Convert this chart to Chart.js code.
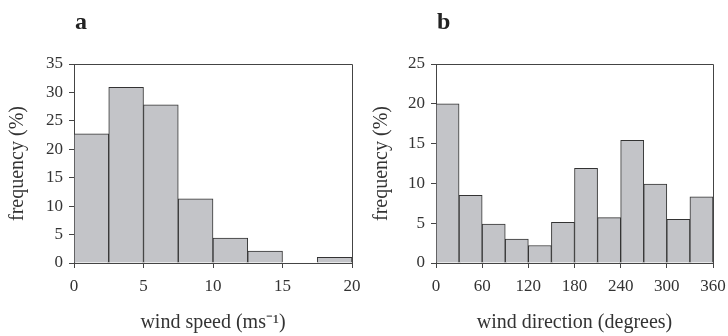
<!DOCTYPE html>
<html>
<head>
<meta charset="utf-8">
<script src="https://cdn.jsdelivr.net/npm/chart.js@4"></script>
<style>
  body { margin: 0; background: #fff; }
  #wrap { position: relative; width: 728px; height: 336px; }
  .panel { position: absolute; top: 0; width: 364px; height: 336px; }
  .tag { position: absolute; top: 8px; font: bold 24px "Liberation Serif", serif; color: #222; }
</style>
</head>
<body>
<div id="wrap">
  <div class="panel" style="left:0"><canvas id="speed-chart" width="364" height="336"></canvas></div>
  <div class="panel" style="left:364px"><canvas id="dir-chart" width="364" height="336"></canvas></div>
  <div class="tag" style="left:75px">a</div>
  <div class="tag" style="left:437px">b</div>
</div>
<script>
// wind speed histogram, bins of 2.5 m/s
const speedBins = [1.25, 3.75, 6.25, 8.75, 11.25, 13.75, 16.25, 18.75];
const speedFreq = [22.7, 30.9, 27.8, 11.3, 4.4, 2.1, 0, 1.0];

// wind direction histogram, bins of 30 degrees
const dirBins = [15, 45, 75, 105, 135, 165, 195, 225, 255, 285, 315, 345];
const dirFreq = [20.0, 8.5, 4.9, 3.0, 2.2, 5.1, 11.9, 5.7, 15.4, 9.9, 5.5, 8.3];

const axisColor = '#444';
const serif = '"Liberation Serif", "Times New Roman", serif';

// top and right edges of the box
const framePlugin = {
    id: 'frame',
    afterDraw(chart) {
        const { ctx, chartArea: a } = chart;
        ctx.save();
        ctx.strokeStyle = axisColor;
        ctx.lineWidth = 1;
        ctx.beginPath();
        ctx.moveTo(a.left, a.top + 0.5);
        ctx.lineTo(a.right + 0.5, a.top + 0.5);
        ctx.lineTo(a.right + 0.5, a.bottom);
        ctx.stroke();
        ctx.restore();
    }
};

function makeHist(id, bins, freq, opts) {
    const ctx = document.getElementById(id).getContext('2d');
    return new Chart(ctx, {
        type: 'bar',
        data: {
            datasets: [{
                data: bins.map((x, i) => ({ x: x, y: freq[i] })),
                backgroundColor: '#c3c4c8',
                borderColor: '#333',
                borderWidth: 1,
                barPercentage: 1,
                categoryPercentage: 1
            }]
        },
        options: {
            responsive: false,
            animation: false,
            layout: { padding: { top: 64, right: opts.right, left: 0, bottom: 0 } },
            plugins: { legend: { display: false }, tooltip: { enabled: false } },
            scales: {
                x: {
                    type: 'linear',
                    offset: false,
                    min: 0,
                    max: opts.xMax,
                    afterFit: s => { s.height = 73; s.paddingLeft = 0; s.paddingRight = 0; },
                    ticks: { stepSize: opts.xStep, color: '#333', padding: 8, maxRotation: 0,
                             font: { family: serif, size: 17 } },
                    grid: { display: true, drawOnChartArea: false, offset: false, tickLength: 5, color: axisColor },
                    border: { color: axisColor },
                    title: { display: true, text: opts.xTitle, color: '#333',
                             font: { family: serif, size: 20 }, padding: { bottom: 1 } }
                },
                y: {
                    min: 0,
                    max: opts.yMax,
                    afterFit: s => { s.width = opts.left; s.paddingTop = 0; s.paddingBottom = 0; },
                    ticks: { stepSize: 5, color: '#333', padding: 6,
                             font: { family: serif, size: 17 } },
                    grid: { display: true, drawOnChartArea: false, tickLength: 5, color: axisColor },
                    border: { color: axisColor },
                    title: { display: true, text: 'frequency (%)', color: '#333',
                             font: { family: serif, size: 20 }, padding: { top: 6 } }
                }
            }
        },
        plugins: [framePlugin]
    });
}

makeHist('speed-chart', speedBins, speedFreq,
    { xMax: 20, xStep: 5, yMax: 35, left: 74, right: 12, xTitle: 'wind speed (ms⁻¹)' });
makeHist('dir-chart', dirBins, dirFreq,
    { xMax: 360, xStep: 60, yMax: 25, left: 72, right: 15, xTitle: 'wind direction (degrees)' });
</script>
</body>
</html>
